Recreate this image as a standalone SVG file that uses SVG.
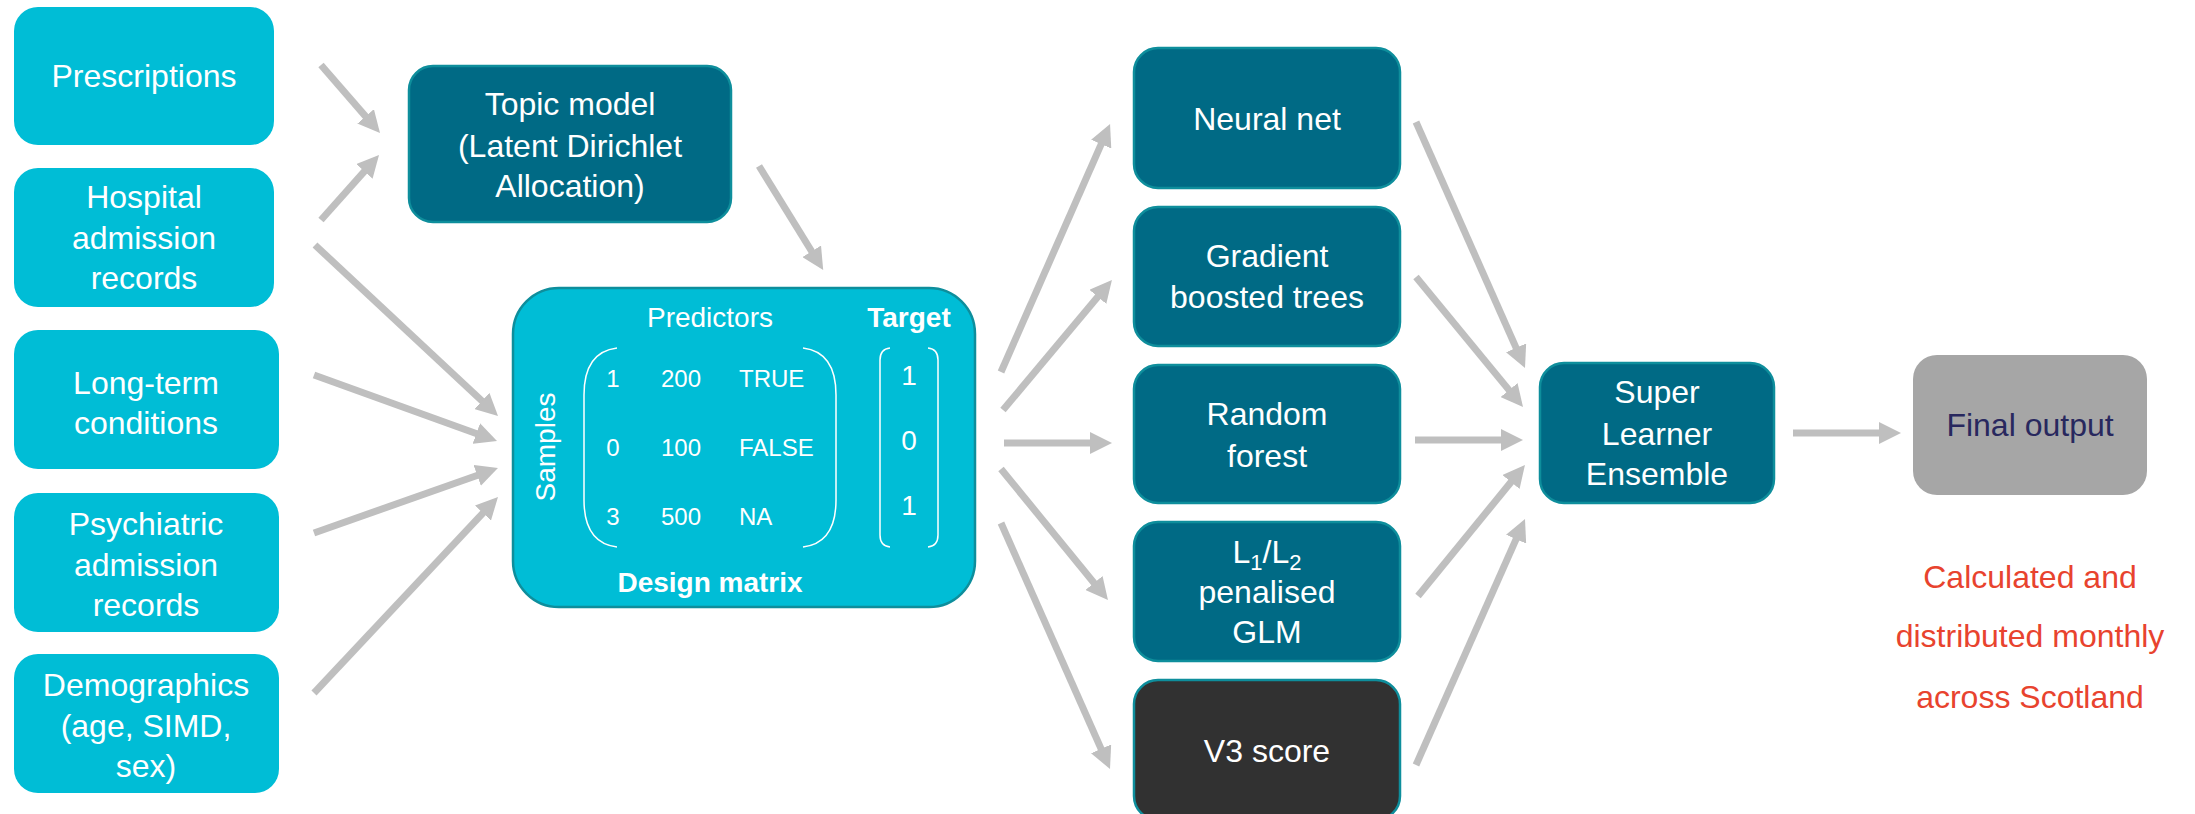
<svg xmlns="http://www.w3.org/2000/svg" width="2195" height="814" viewBox="0 0 2195 814">
<defs>
<marker id="ah" markerUnits="userSpaceOnUse" markerWidth="22" markerHeight="22" refX="2" refY="11" orient="auto" viewBox="0 0 22 22">
<path d="M0,0 L22,11 L0,22 z" fill="#BFBFBF"/>
</marker>
</defs>
<style>
text{font-family:"Liberation Sans",Arial,sans-serif;}
.in{fill:#00BDD6;}
.dk{fill:#006A85;stroke:#0E8E9C;stroke-width:2.5;}
.v3{fill:#313131;stroke:#0E8E9C;stroke-width:2.5;}
.fo{fill:#A6A6A6;}
.t{fill:#FFFFFF;font-size:32px;text-anchor:middle;}
.m{fill:#FFFFFF;font-size:24px;}
.hd{fill:#FFFFFF;font-size:28px;text-anchor:middle;}
.br{fill:none;stroke:#FFFFFF;stroke-width:1.5;}
.red{fill:#E8432E;font-size:32px;text-anchor:middle;}
.arr line{stroke:#BFBFBF;stroke-width:7;marker-end:url(#ah);}
</style>
<rect width="2195" height="814" fill="#FFFFFF"/>

<g id="connectors" class="arr">
<line x1="321" y1="65" x2="366.9" y2="117.9"/>
<line x1="321" y1="220" x2="365.7" y2="169.9"/>
<line x1="315" y1="245" x2="483.4" y2="402.3"/>
<line x1="314" y1="375" x2="478.2" y2="434.2"/>
<line x1="314" y1="533" x2="479.1" y2="474.7"/>
<line x1="314" y1="693" x2="484.3" y2="511.6"/>
<line x1="759" y1="166" x2="812.7" y2="253"/>
<line x1="1001" y1="372" x2="1102" y2="142.3"/>
<line x1="1003" y1="410" x2="1099.1" y2="295.3"/>
<line x1="1004" y1="443" x2="1092" y2="443"/>
<line x1="1001" y1="469" x2="1095.3" y2="584.5"/>
<line x1="1001" y1="523" x2="1101.9" y2="750.7"/>
<line x1="1416" y1="122" x2="1516.9" y2="349.7"/>
<line x1="1416" y1="277" x2="1510.3" y2="391.6"/>
<line x1="1415" y1="440" x2="1503" y2="440"/>
<line x1="1418" y1="596" x2="1512.3" y2="480.5"/>
<line x1="1416" y1="765" x2="1516.9" y2="537.3"/>
<line x1="1793" y1="433" x2="1881" y2="433"/>
</g>

<g id="prescriptions">
<rect class="in" x="14" y="7" width="260" height="138" rx="24"/>
<text class="t" x="144" y="87">Prescriptions</text>
</g>
<g id="hospital">
<rect class="in" x="14" y="168" width="260" height="139" rx="24"/>
<text class="t" x="144" y="208">Hospital</text>
<text class="t" x="144" y="249">admission</text>
<text class="t" x="144" y="289">records</text>
</g>
<g id="longterm">
<rect class="in" x="14" y="330" width="265" height="139" rx="24"/>
<text class="t" x="146" y="394">Long-term</text>
<text class="t" x="146" y="434">conditions</text>
</g>
<g id="psychiatric">
<rect class="in" x="14" y="493" width="265" height="139" rx="24"/>
<text class="t" x="146" y="535">Psychiatric</text>
<text class="t" x="146" y="576">admission</text>
<text class="t" x="146" y="616">records</text>
</g>
<g id="demographics">
<rect class="in" x="14" y="654" width="265" height="139" rx="24"/>
<text class="t" x="146" y="696">Demographics</text>
<text class="t" x="146" y="737">(age, SIMD,</text>
<text class="t" x="146" y="777">sex)</text>
</g>

<g id="topicmodel">
<rect class="dk" x="409" y="66" width="322" height="156" rx="24"/>
<text class="t" x="570" y="115">Topic model</text>
<text class="t" x="570" y="157">(Latent Dirichlet</text>
<text class="t" x="570" y="197">Allocation)</text>
</g>

<g id="designmatrix">
<rect x="513" y="288" width="462" height="319" rx="46" fill="#00BDD6" stroke="#0E8E9C" stroke-width="2.5"/>
<text class="hd" x="710" y="327">Predictors</text>
<text class="hd" x="909" y="327" font-weight="bold">Target</text>
<text class="hd" transform="translate(555,447) rotate(-90)">Samples</text>
<path class="br" d="M617,348 Q584,352 584,395 L584,500 Q584,543 617,547"/>
<path class="br" d="M803,348 Q836,352 836,395 L836,500 Q836,543 803,547"/>
<path class="br" d="M890,348 Q880,349 880,360 L880,535 Q880,546 890,547"/>
<path class="br" d="M928,348 Q938,349 938,360 L938,535 Q938,546 928,547"/>
<text class="m" x="613" y="387" text-anchor="middle">1</text>
<text class="m" x="681" y="387" text-anchor="middle">200</text>
<text class="m" x="739" y="387">TRUE</text>
<text class="m" x="613" y="456" text-anchor="middle">0</text>
<text class="m" x="681" y="456" text-anchor="middle">100</text>
<text class="m" x="739" y="456">FALSE</text>
<text class="m" x="613" y="525" text-anchor="middle">3</text>
<text class="m" x="681" y="525" text-anchor="middle">500</text>
<text class="m" x="739" y="525">NA</text>
<text class="hd" x="909" y="385" font-size="27">1</text>
<text class="hd" x="909" y="450" font-size="27">0</text>
<text class="hd" x="909" y="515" font-size="27">1</text>
<text class="hd" x="710" y="592" font-weight="bold">Design matrix</text>
</g>

<g id="neuralnet">
<rect class="dk" x="1134" y="48" width="266" height="140" rx="24"/>
<text class="t" x="1267" y="130">Neural net</text>
</g>
<g id="gradient">
<rect class="dk" x="1134" y="207" width="266" height="139" rx="24"/>
<text class="t" x="1267" y="267">Gradient</text>
<text class="t" x="1267" y="308">boosted trees</text>
</g>
<g id="randomforest">
<rect class="dk" x="1134" y="365" width="266" height="138" rx="24"/>
<text class="t" x="1267" y="425">Random</text>
<text class="t" x="1267" y="467">forest</text>
</g>
<g id="glm">
<rect class="dk" x="1134" y="522" width="266" height="139" rx="24"/>
<text class="t" x="1267" y="563">L<tspan font-size="22" dy="7">1</tspan><tspan dy="-7">/L</tspan><tspan font-size="22" dy="7">2</tspan></text>
<text class="t" x="1267" y="603">penalised</text>
<text class="t" x="1267" y="643">GLM</text>
</g>
<g id="v3score">
<rect class="v3" x="1134" y="680" width="266" height="140" rx="24"/>
<text class="t" x="1267" y="762" font-size="36">V3 score</text>
</g>

<g id="superlearner">
<rect class="dk" x="1540" y="363" width="234" height="140" rx="24"/>
<text class="t" x="1657" y="403">Super</text>
<text class="t" x="1657" y="445">Learner</text>
<text class="t" x="1657" y="485">Ensemble</text>
</g>

<g id="finaloutput">
<rect class="fo" x="1913" y="355" width="234" height="140" rx="24"/>
<text class="t" x="2030" y="436" fill="#28285E" style="fill:#28285E">Final output</text>
</g>

<g id="note">
<text class="red" x="2030" y="588">Calculated and</text>
<text class="red" x="2030" y="647">distributed monthly</text>
<text class="red" x="2030" y="708">across Scotland</text>
</g>
</svg>
